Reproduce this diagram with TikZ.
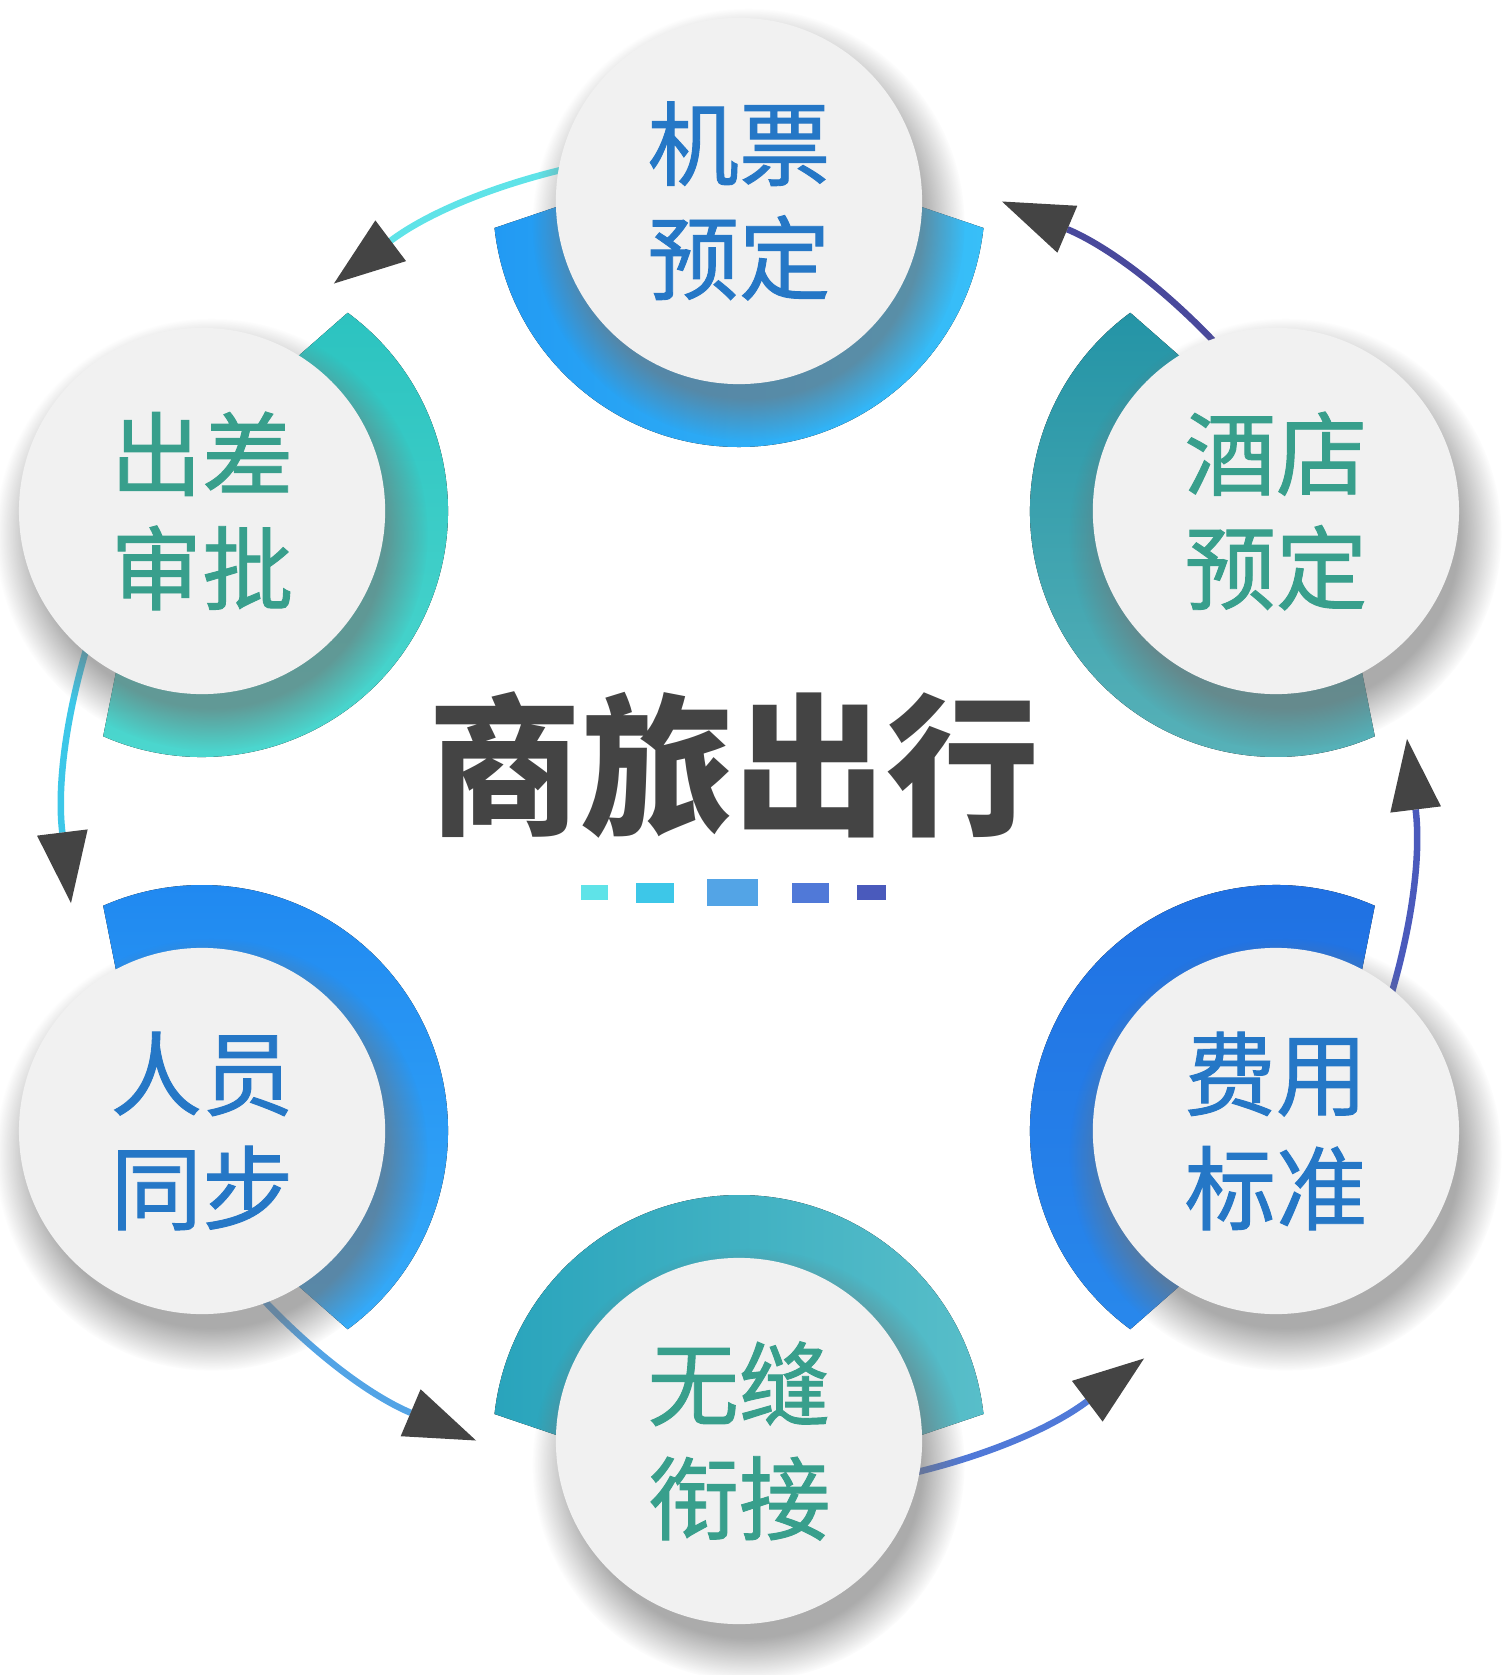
\documentclass[tikz,border=0pt]{standalone}
\usepackage{fontspec}
\newfontfamily\cjk{Noto Sans CJK SC}
\newfontfamily\cjkmed[FakeBold=1]{Noto Sans CJK SC}
\usetikzlibrary{arrows.meta,shadows,fadings}

\definecolor{cardgray}{HTML}{F1F1F1}
\definecolor{textblue}{HTML}{2577C6}
\definecolor{textteal}{HTML}{389F8C}
\definecolor{darkgray}{HTML}{444444}
\definecolor{flowA}{HTML}{5FE3E8}
\definecolor{flowB}{HTML}{3DC7E8}
\definecolor{flowC}{HTML}{53A4E6}
\definecolor{flowD}{HTML}{5079D8}
\definecolor{flowE}{HTML}{4A5ABC}
\definecolor{flowF}{HTML}{49499C}

\tikzset{
  card/.style={circle,fill=cardgray,minimum size=3.66cm,inner sep=0pt,align=center,
    font=\cjkmed\fontsize{26}{32.5}\selectfont,
    circular drop shadow={shadow xshift=.08cm,shadow yshift=-.2cm,shadow scale=1.18,
      opacity=.6,fill=black!55,path fading=circle with fuzzy edge 20 percent}},
  flow/.style={line width=.065cm,-{Triangle[length=.71cm,width=.51cm,line width=0pt,color=darkgray]}},
}

\begin{document}
\begin{tikzpicture}[x=0.01cm,y=0.01cm]
        \useasboundingbox (-739,-854) rectangle (766,821);
        \coordinate (ticket-out) at (90:673);
        \coordinate (approval-in) at (127:673);
        \coordinate (approval-out) at (150:673);
        \coordinate (staff-in) at (187:673);
        \coordinate (staff-out) at (210:673);
        \coordinate (link-in) at (247:673);
        \coordinate (link-out) at (270:673);
        \coordinate (expense-in) at (307:673);
        \coordinate (expense-out) at (330:673);
        \coordinate (hotel-in) at (7:673);
        \coordinate (hotel-out) at (30:673);
        \coordinate (ticket-in) at (67:673);
        \draw[flow,flowA] (ticket-out) to[bend right=18.5,looseness=.874] (approval-in);
        \draw[flow,flowB] (approval-out) to[bend right=18.5,looseness=.874] (staff-in);
        \draw[flow,flowC] (staff-out) to[bend right=18.5,looseness=.874] (link-in);
        \draw[flow,flowD] (link-out) to[bend right=18.5,looseness=.874] (expense-in);
        \draw[flow,flowE] (expense-out) to[bend right=18.5,looseness=.874] (hotel-in);
        \draw[flow,flowF] (hotel-out) to[bend right=18.5,looseness=.874] (ticket-in);
        \begin{scope}[shift={(90:620)}]
            \fill[left color={rgb,255:red,34;green,154;blue,243},right color={rgb,255:red,56;green,191;blue,248}]
                (90:56) -- (186.3:246) arc[start angle=186.3,end angle=353.7,radius=246] -- cycle;
        \end{scope}
        \begin{scope}[shift={(150:620)}]
            \fill[top color={rgb,255:red,44;green,195;blue,192},bottom color={rgb,255:red,78;green,216;blue,207}]
                (150:56) -- (246.3:246) arc[start angle=246.3,end angle=413.7,radius=246] -- cycle;
        \end{scope}
        \begin{scope}[shift={(210:620)}]
            \fill[top color={rgb,255:red,31;green,135;blue,240},bottom color={rgb,255:red,53;green,171;blue,248}]
                (210:56) -- (306.3:246) arc[start angle=306.3,end angle=473.7,radius=246] -- cycle;
        \end{scope}
        \begin{scope}[shift={(270:620)}]
            \fill[left color={rgb,255:red,41;green,164;blue,188},right color={rgb,255:red,88;green,190;blue,201}]
                (270:56) -- (6.3:246) arc[start angle=6.3,end angle=173.7,radius=246] -- cycle;
        \end{scope}
        \begin{scope}[shift={(330:620)}]
            \fill[top color={rgb,255:red,31;green,111;blue,226},bottom color={rgb,255:red,40;green,136;blue,236}]
                (330:56) -- (66.3:246) arc[start angle=66.3,end angle=233.7,radius=246] -- cycle;
        \end{scope}
        \begin{scope}[shift={(30:620)}]
            \fill[top color={rgb,255:red,36;green,148;blue,166},bottom color={rgb,255:red,90;green,179;blue,185}]
                (30:56) -- (126.3:246) arc[start angle=126.3,end angle=293.7,radius=246] -- cycle;
        \end{scope}
        \node[card,text=textblue] (ticket) at (90:620) {机票\\预定};
        \node[card,text=textteal] (approval) at (150:620) {出差\\审批};
        \node[card,text=textblue] (staff) at (210:620) {人员\\同步};
        \node[card,text=textteal] (link) at (270:620) {无缝\\衔接};
        \node[card,text=textblue] (expense) at (330:620) {费用\\标准};
        \node[card,text=textteal] (hotel) at (30:620) {酒店\\预定};
        \node[font=\cjk\bfseries\fontsize{43.5}{50}\selectfont,text=darkgray] (title) at (-5,56) {商旅出行};
        \fill[flowA] (-158,-64) rectangle (-131,-79);
        \fill[flowB] (-103,-62) rectangle (-65,-82);
        \fill[flowC] (-32,-58) rectangle (19,-85);
        \fill[flowD] (53,-62) rectangle (90,-82);
        \fill[flowE] (118,-64) rectangle (147,-79);
    \end{tikzpicture}
\end{document}
